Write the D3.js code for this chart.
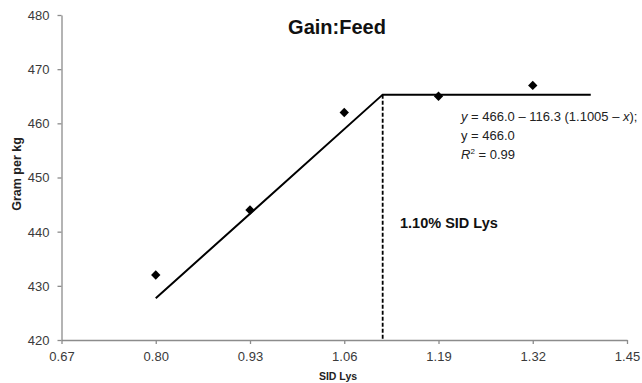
<!DOCTYPE html>
<html><head><meta charset="utf-8">
<script src="https://cdn.jsdelivr.net/npm/d3@7"></script>
<style>
html,body{margin:0;padding:0;background:#fff;}
text{font-family:"Liberation Sans",Arial,sans-serif;}
</style></head>
<body><svg id="c" width="642" height="383"></svg>
<script>
const xTicks = [0.67, 0.80, 0.93, 1.06, 1.19, 1.32, 1.45];
const yTicks = [420, 430, 440, 450, 460, 470, 480];
const lysLevels = [0.80, 0.93, 1.06, 1.19, 1.32];
const gainFeed = [432, 444, 462, 465, 467];
const fitX = [0.80, 1.113, 1.40];
const fitY = [427.7, 465.3, 465.3];
const breakX = 1.113;
const eqLines = ["y = 466.0 – 116.3 (1.1005 – x);", "y = 466.0", "R² = 0.99"];

const svg = d3.select("#c");
const x = d3.scaleLinear().domain([0.67, 1.45]).range([61.5, 627]);
const y = d3.scaleLinear().domain([420, 480]).range([340, 15]);

const axisCol = "#8c8c8c", labCol = "#3a3a3a";
const tickFont = "Lato, 'Open Sans', sans-serif";

const xa = svg.append("g").attr("transform", "translate(0,340)")
  .call(d3.axisBottom(x).tickValues(xTicks).tickFormat(d3.format(".2f")).tickSize(4).tickSizeOuter(0));
const ya = svg.append("g").attr("transform", "translate(61.5,0)")
  .call(d3.axisLeft(y).tickValues(yTicks).tickFormat(d3.format("d")).tickSize(4).tickSizeOuter(0));
[xa, ya].forEach(g => {
  g.select(".domain").attr("stroke", axisCol).attr("stroke-width", 1.3);
  g.selectAll(".tick line").attr("stroke", axisCol).attr("stroke-width", 1.3);
  g.selectAll(".tick text").attr("fill", labCol).attr("font-size", 13)
    .attr("font-family", tickFont);
});
xa.selectAll(".tick text").attr("dy", null).attr("y", 21);
ya.selectAll(".tick text").attr("x", -12).attr("dy", "0.34em");

// fitted broken line
const pts = fitX.map((v, i) => [v, fitY[i]]);
svg.append("path").datum(pts)
  .attr("d", d3.line().x(d => x(d[0])).y(d => y(d[1])))
  .attr("fill", "none").attr("stroke", "#000").attr("stroke-width", 2);

// dashed breakpoint
svg.append("line")
  .attr("x1", x(breakX)).attr("x2", x(breakX))
  .attr("y1", y(fitY[1])).attr("y2", y(420))
  .attr("stroke", "#000").attr("stroke-width", 1.8).attr("stroke-dasharray", "4,2");

// points (diamonds)
svg.selectAll(".pt").data(lysLevels.map((v, i) => [v, gainFeed[i]])).enter()
  .append("path").attr("class", "pt")
  .attr("d", d3.symbol().type(d3.symbolSquare).size(44))
  .attr("transform", d => `translate(${x(d[0])},${y(d[1])}) rotate(45)`)
  .attr("fill", "#000");

// title
svg.append("text").attr("x", 337).attr("y", 34).attr("text-anchor", "middle")
  .attr("font-family", tickFont).attr("font-weight", "bold")
  .attr("font-size", 20).attr("fill", "#111").text("Gain:Feed");

// axis titles
svg.append("text").attr("x", 338).attr("y", 380).attr("text-anchor", "middle")
  .attr("font-family", tickFont).attr("font-weight", "bold")
  .attr("font-size", 10.5).attr("fill", "#222").text("SID Lys");
svg.append("text").attr("transform", "translate(21,174) rotate(-90)").attr("text-anchor", "middle")
  .attr("font-weight", "bold").attr("font-size", 12.5).attr("fill", "#222").text("Gram per kg");

// annotation
svg.append("text").attr("x", 400).attr("y", 228)
  .attr("font-weight", "bold").attr("font-size", 14.5).attr("fill", "#111").text("1.10% SID Lys");

// equation
const eq = svg.append("g").attr("font-size", 13).attr("fill", "#222");
const t1 = eq.append("text").attr("x", 461).attr("y", 121);
t1.append("tspan").attr("font-style", "italic").text("y");
t1.append("tspan").text(" = 466.0 – 116.3 (1.1005 – ");
t1.append("tspan").attr("font-style", "italic").text("x");
t1.append("tspan").text(");");
eq.append("text").attr("x", 461).attr("y", 140).text(eqLines[1]);
const t3 = eq.append("text").attr("x", 461).attr("y", 158.5);
t3.append("tspan").attr("font-style", "italic").text("R");
t3.append("tspan").attr("font-size", 8).attr("dy", -5).text("2");
t3.append("tspan").attr("dy", 5).text(" = 0.99");
</script></body></html>
